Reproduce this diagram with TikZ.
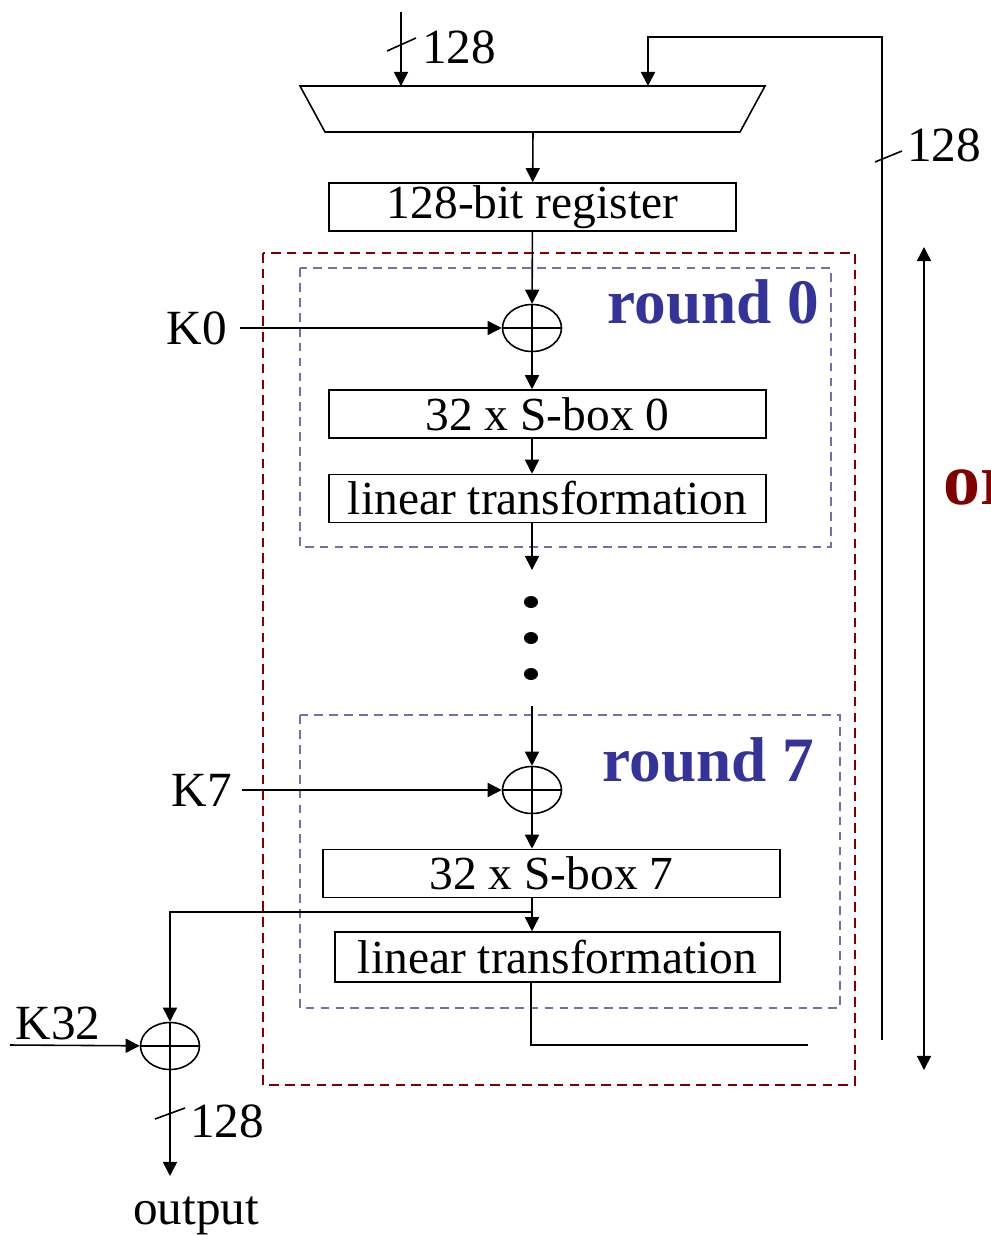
\documentclass[tikz,border=0pt]{standalone}
\usepackage{fontspec}
\setmainfont{Liberation Serif}
\usetikzlibrary{positioning,arrows.meta,shapes.geometric}
\definecolor{rndred}{RGB}{128,0,0}
\definecolor{rndblue}{RGB}{51,51,153}
\definecolor{boxblue}{RGB}{112,112,170}

\begin{document}
\begin{tikzpicture}[x=0.02cm,y=-0.02cm,line width=0.9pt,
    >={Triangle[length=8pt,width=8pt]},
    blk/.style={draw,inner sep=0pt,minimum height=0.96cm,font=\fontsize{27}{30}\selectfont},
    xr/.style={draw,ellipse,inner sep=0pt,minimum width=1.18cm,minimum height=0.94cm},
    lbl/.style={inner sep=0pt,font=\fontsize{28}{30}\selectfont},
    rnd/.style={inner sep=0pt,text=rndblue,font=\fontsize{36}{40}\selectfont\bfseries},
    dot/.style={fill,ellipse,inner sep=0pt,minimum width=0.28cm,minimum height=0.24cm},
    rbox/.style={draw=boxblue,line width=0.8pt,dash pattern=on 5pt off 3.5pt}]
  \useasboundingbox (0,0) rectangle (991,1235);

  % multiplexer
  \draw (300,86) -- (765,86) -- (740,132) -- (325,132) -- cycle;
  \coordinate (in) at (401,12);
  \coordinate (mxa) at (401,86);
  \coordinate (mxb) at (648,86);
  \coordinate (mxo) at (533,132);
  \draw[->] (in) -- (mxa);
  \draw (387,51) -- (416,38);
  \node[lbl] (w0) at (459,47) {128};

  \node[blk,minimum width=8.14cm] (reg) at (532.5,207) {128-bit register};
  \draw[->] (mxo) -- (reg);

  % round frames
  \draw[rndred,line width=1.1pt,dash pattern=on 5.5pt off 3.5pt] (263,253) rectangle (855,1085);
  \draw[rbox] (300,268) rectangle (831,547);
  \draw[rbox] (300,715) rectangle (840,1008);
  \node[rnd,anchor=east] (r0) at (820,302) {round 0};
  \node[rnd,anchor=east] (r7) at (815,760) {round 7};

  % round 0
  \node[xr] (x0) at (532,328) {};
  \draw (x0.north) -- (x0.south) (x0.west) -- (x0.east);
  \node[lbl] (k0) at (197,328) {K0};
  \draw[->] ([xshift=0.24cm]k0.east) -- (x0);
  \draw[->] (reg) -- (x0);
  \node[blk,minimum width=8.74cm] (s0) at (547.5,414) {32 x S-box 0};
  \draw[->] (x0) -- (x0 |- s0.north);
  \node[blk,minimum width=8.74cm] (l0) at (547.5,498.5) {linear transformation};
  \draw[->] (s0.south -| x0) -- (l0.north -| x0);
  \coordinate (g0) at (532,570);
  \draw[->] (l0.south -| g0) -- (g0);

  \foreach \i/\y in {1/602,2/638,3/674}
    \node[dot] (d\i) at (531,\y) {};

  % round 7
  \coordinate (g7) at (532,706);
  \node[xr] (x7) at (532,790) {};
  \draw (x7.north) -- (x7.south) (x7.west) -- (x7.east);
  \draw[->] (g7) -- (x7);
  \node[lbl] (k7) at (202,790) {K7};
  \draw[->] ([xshift=0.18cm]k7.east) -- (x7);
  \node[blk,minimum width=9.14cm] (s7) at (551.5,873.5) {32 x S-box 7};
  \draw[->] (x7) -- (x7 |- s7.north);
  \node[blk,minimum width=8.9cm,minimum height=1cm] (l7) at (557.5,957) {linear transformation};
  \coordinate (br) at (532,912);
  \draw[->] (s7.south -| br) -- (l7.north -| br);
  \coordinate (t7) at (531,1045);
  \coordinate (fo) at (808,1045);
  \draw (l7.south -| t7) -- (t7) -- (fo);

  % last key
  \node[xr] (x32) at (170,1046) {};
  \draw (x32.north) -- (x32.south) (x32.west) -- (x32.east);
  \draw[->] (br) -| (x32);
  \coordinate (kin) at (10,1045);
  \draw[->] (kin) -- (x32);
  \node[lbl,anchor=base west] (k32) at (15,1039) {K32};
  \coordinate (out) at (170,1176);
  \draw[->] (x32) -- (out);
  \draw (155,1119) -- (185,1108);
  \node[lbl] (w2) at (227,1121) {128};
  \node[lbl,anchor=base] (o) at (196,1224) {output};

  % feedback
  \coordinate (fb0) at (882,1040);
  \coordinate (fb1) at (882,37);
  \draw[->] (fb0) -- (fb1) -| (mxb);
  \draw (875,162) -- (902,151);
  \node[lbl] (w1) at (944,145) {128};

  % span of the rounds
  \coordinate (sp0) at (924,247);
  \coordinate (sp1) at (924,1070);
  \draw[<->] (sp0) -- (sp1);
  \node[rnd,text=rndred,anchor=base west,font=\fontsize{42}{44}\selectfont\bfseries] (lab) at (943,504) {or};
\end{tikzpicture}
\end{document}
